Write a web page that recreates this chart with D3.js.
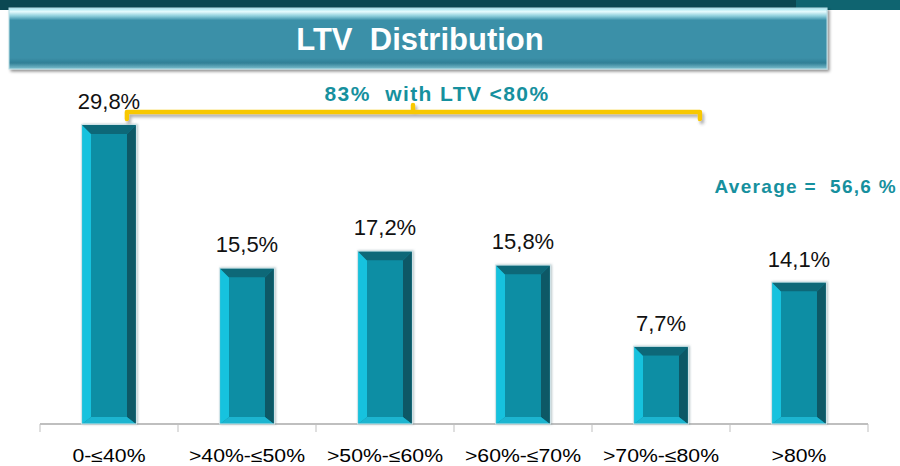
<!DOCTYPE html>
<html><head><meta charset="utf-8">
<script src="https://cdn.jsdelivr.net/npm/d3@7"></script>
<style>html,body{margin:0;padding:0;background:#fff;}svg{display:block;}</style>
</head><body>
<svg id="c" width="900" height="466"></svg>
<script>
const categories = ["0-≤40%", ">40%-≤50%", ">50%-≤60%", ">60%-≤70%", ">70%-≤80%", ">80%"];
const values = [29.8, 15.5, 17.2, 15.8, 7.7, 14.1];
const valueLabels = ["29,8%", "15,5%", "17,2%", "15,8%", "7,7%", "14,1%"];
const titleText = "LTV  Distribution";
const bracketText = "83%  with LTV <80%";
const averageText = "Average =  56,6 %";

const svg = d3.select("#c");
const defs = svg.append("defs");
const FF = "Liberation Sans, Arial, sans-serif";

// top dark band
svg.append("rect").attr("x",0).attr("y",0).attr("width",900).attr("height",10).attr("fill","#0b4852");
svg.append("rect").attr("x",796).attr("y",0).attr("width",104).attr("height",10).attr("fill","#0f6470");

// title box
const tg = defs.append("linearGradient").attr("id","tg").attr("x1",0).attr("y1",0).attr("x2",0).attr("y2",1);
[[0,"#9fe3ee"],[0.06,"#e6fbfd"],[0.13,"#8fcfdc"],[0.2,"#3b90a8"],[0.82,"#3b90a8"],[0.9,"#2f7f96"],[1,"#7fc0cf"]]
  .forEach(s=>tg.append("stop").attr("offset",s[0]).attr("stop-color",s[1]));
const fl = defs.append("filter").attr("id","sh").attr("x","-5%").attr("y","-5%").attr("width","115%").attr("height","130%");
fl.append("feDropShadow").attr("dx",2).attr("dy",2).attr("stdDeviation",1.5).attr("flood-color","#000").attr("flood-opacity",0.45);
svg.append("rect").attr("x",9).attr("y",8).attr("width",818).attr("height",61)
  .attr("fill","url(#tg)").attr("stroke","#b9dde5").attr("stroke-width",1).attr("filter","url(#sh)");
svg.append("text").attr("x",420).attr("y",50).attr("text-anchor","middle")
  .attr("font-family",FF).attr("font-weight","bold")
  .attr("font-size",31).attr("fill","#fff").style("white-space","pre").text(titleText);

// scales
const x = d3.scaleBand().domain(categories).range([40, 868]).paddingInner(0.61).paddingOuter(0.305);
const y = d3.scaleLinear().domain([0, 30]).range([424, 123]);
const bw = x.bandwidth();
const step = x.step();

// axis
const axisG = svg.append("g").attr("transform","translate(0,424)")
  .call(d3.axisBottom(x).tickSize(0).tickPadding(25));
axisG.select(".domain").attr("stroke","#bfbfbf").attr("stroke-width",2).attr("d","M40,0H868");
axisG.selectAll(".tick text").attr("font-family",FF).attr("font-size",18).attr("fill","#000")
  .attr("transform","scale(1.18,1)");
const bounds = d3.range(categories.length+1).map(i=>40+i*step);
axisG.selectAll("line.bd").data(bounds).join("line").attr("class","bd")
  .attr("x1",d=>d).attr("x2",d=>d).attr("y1",0).attr("y2",8).attr("stroke","#bfbfbf").attr("stroke-width",1);

// bars with bevel
const bsh = defs.append("filter").attr("id","bsh").attr("x","-20%").attr("y","-5%").attr("width","140%").attr("height","110%");
bsh.append("feDropShadow").attr("dx",1).attr("dy",0).attr("stdDeviation",1.2).attr("flood-color","#6a8a90").attr("flood-opacity",0.5);
const bars = svg.append("g").selectAll("g").data(categories).join("g").attr("filter","url(#bsh)");
bars.each(function(c,i){
  const g = d3.select(this);
  const x0 = x(c), x1 = x0+bw, y0 = y(values[i]), y1 = y(0);
  const bh = 9, bt = 9, bb = 7;
  const ix0 = x0+bh, ix1 = x1-bh, iy0 = y0+bt, iy1 = y1-bb;
  const poly = (pts,fill)=>g.append("polygon").attr("points",pts.map(p=>p.join(",")).join(" ")).attr("fill",fill);
  poly([[x0,y0],[x1,y0],[x1,y1],[x0,y1]],"#0b8ea4");
  poly([[x0,y0],[ix0,iy0],[ix0,iy1],[x0,y1]],"#17c2de");
  poly([[x1,y0],[x1,y1],[ix1,iy1],[ix1,iy0]],"#075866");
  poly([[x0,y0],[x1,y0],[ix1,iy0],[ix0,iy0]],"#0b6878");
  poly([[x0,y1],[ix0,iy1],[ix1,iy1],[x1,y1]],"#1db5d0");
  poly([[ix0,iy0],[ix1,iy0],[ix1,iy1],[ix0,iy1]],"#0b8ea4");
  g.append("rect").attr("x",x0-0.5).attr("y",y0-0.5).attr("width",bw+1).attr("height",y1-y0+0.5)
    .attr("fill","none").attr("stroke","#cfe3e7").attr("stroke-width",1);
});

// value labels
svg.append("g").selectAll("text").data(categories).join("text")
  .attr("x",c=>x(c)+bw/2).attr("y",(c,i)=>y(values[i])-16).attr("text-anchor","middle")
  .attr("font-family",FF).attr("font-size",22).attr("fill","#111")
  .text((c,i)=>valueLabels[i]);

// bracket
const bx0 = x(categories[0])+bw-9, bx1 = x(categories[4])+bw+12, by = 112;
const bmid = 413;
const bshf = defs.append("filter").attr("id","ysh").attr("x","-5%").attr("y","-50%").attr("width","110%").attr("height","300%");
bshf.append("feDropShadow").attr("dx",2).attr("dy",3).attr("stdDeviation",1.5).attr("flood-color","#555").attr("flood-opacity",0.45);
svg.append("path")
  .attr("d",`M${bx0},${by+7}V${by}H${bx1}V${by+7}M${bmid},${by}V${by-7}`)
  .attr("fill","none").attr("stroke","#f8c800").attr("stroke-width",4.5).attr("stroke-linejoin","round").attr("stroke-linecap","round")
  .attr("filter","url(#ysh)");
svg.append("text").attr("x",437).attr("y",101).attr("text-anchor","middle")
  .attr("font-family",FF).attr("font-weight","bold").attr("font-size",21).attr("letter-spacing",1.4)
  .attr("fill","#16909e").style("white-space","pre").text(bracketText);

svg.append("text").attr("x",897).attr("y",193).attr("text-anchor","end")
  .attr("font-family",FF).attr("font-weight","bold").attr("font-size",19).attr("letter-spacing",1.3)
  .attr("fill","#16909e").style("white-space","pre").text(averageText);
</script>
</body></html>
